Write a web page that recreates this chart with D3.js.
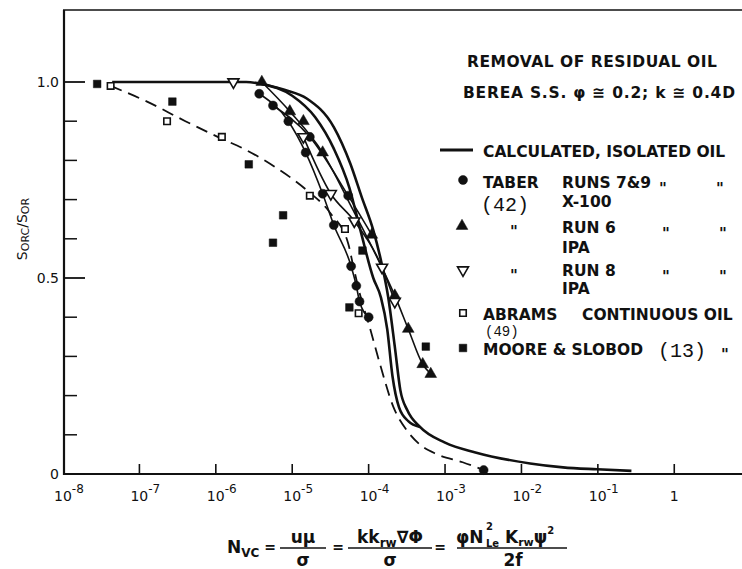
<!DOCTYPE html>
<html>
<head>
<meta charset="utf-8">
<script src="https://cdn.jsdelivr.net/npm/d3@7"></script>
<style>
  html, body { margin: 0; padding: 0; background: #fff; }
  svg { display: block; font-family: "DejaVu Sans", sans-serif; }
  text { fill: #111; }
</style>
</head>
<body>
<svg id="chart" width="742" height="569"></svg>
<script>
// ---- data: [N_vc, S_orc/S_or] ----
const taberRuns79 = [
  [3.7e-6, 0.97], [5.6e-6, 0.94], [8.9e-6, 0.90], [1.5e-5, 0.82], [1.7e-5, 0.86],
  [2.5e-5, 0.715], [3.5e-5, 0.635], [5.4e-5, 0.71], [5.9e-5, 0.53], [6.9e-5, 0.48],
  [7.6e-5, 0.44], [1.0e-4, 0.40], [3.2e-3, 0.01]
];
const taberRun6 = [
  [4.0e-6, 1.0], [9.3e-6, 0.925], [1.4e-5, 0.90], [2.5e-5, 0.82], [1.1e-4, 0.61],
  [2.2e-4, 0.455], [3.3e-4, 0.37], [5.1e-4, 0.28], [6.5e-4, 0.255]
];
const taberRun8 = [
  [1.7e-6, 1.0], [1.4e-5, 0.86], [3.2e-5, 0.715], [6.5e-5, 0.645], [1.5e-4, 0.527], [2.2e-4, 0.44]
];
const abrams = [
  [4.2e-8, 0.99], [2.3e-7, 0.90], [1.2e-6, 0.86], [1.7e-5, 0.71], [4.9e-5, 0.625], [7.4e-5, 0.41]
];
const mooreSlobod = [
  [2.8e-8, 0.995], [2.7e-7, 0.95], [2.7e-6, 0.79], [7.6e-6, 0.66], [5.6e-6, 0.59],
  [8.3e-5, 0.57], [5.6e-5, 0.425], [5.6e-4, 0.325]
];

// calculated isolated-oil curves
const calcOuter = [
  [4.4e-8, 1.0], [2.5e-6, 1.0], [4.0e-6, 0.995], [7.9e-6, 0.98], [1.55e-5, 0.958],
  [3.5e-5, 0.885], [5.75e-5, 0.792], [8.1e-5, 0.707], [1.15e-4, 0.622], [1.48e-4, 0.537],
  [1.8e-4, 0.452], [2.2e-4, 0.325], [2.6e-4, 0.214], [3.2e-4, 0.163], [4.7e-4, 0.12],
  [1.0e-3, 0.08], [2.5e-3, 0.055], [1.3e-2, 0.027], [3.5e-2, 0.017], [9.8e-2, 0.012], [0.275, 0.008]
];
const calcInner = [
  [4.0e-6, 0.995], [1.0e-5, 0.965], [2.0e-5, 0.91], [3.5e-5, 0.83], [5.6e-5, 0.73],
  [7.8e-5, 0.622], [1.15e-4, 0.50], [1.45e-4, 0.45], [1.75e-4, 0.37], [2.05e-4, 0.25],
  [2.5e-4, 0.17], [3.3e-4, 0.135], [4.7e-4, 0.12]
];
// hand-fitted lines through the runs
const fitTaber79a = [
  [3.7e-6, 0.97], [8.9e-6, 0.90], [1.5e-5, 0.82], [2.5e-5, 0.715], [3.5e-5, 0.635],
  [5.9e-5, 0.53], [6.9e-5, 0.48], [7.6e-5, 0.44], [1.0e-4, 0.40]
];
const fitTaber79b = [[5.6e-6, 0.94], [1.7e-5, 0.86], [5.4e-5, 0.71], [1.1e-4, 0.61]];
const fitRun6 = [
  [4.0e-6, 1.0], [9.3e-6, 0.925], [2.5e-5, 0.82], [6.0e-5, 0.68], [1.1e-4, 0.58],
  [2.2e-4, 0.455], [3.3e-4, 0.37], [5.1e-4, 0.28], [6.5e-4, 0.255]
];
const fitRun8 = [
  [1.4e-5, 0.86], [3.2e-5, 0.715], [6.5e-5, 0.645], [1.5e-4, 0.527], [2.2e-4, 0.44]
];
const continuousOil = [
  [4.2e-8, 0.99], [1.26e-7, 0.95], [4.0e-7, 0.90], [1.2e-6, 0.855], [2.3e-6, 0.83],
  [6.3e-6, 0.78], [1.55e-5, 0.724], [3.2e-5, 0.664], [5.4e-5, 0.588], [6.3e-5, 0.53],
  [7.9e-5, 0.45], [1.0e-4, 0.384], [1.4e-4, 0.282], [2.1e-4, 0.172], [3.2e-4, 0.11],
  [4.7e-4, 0.075], [7.9e-4, 0.05], [1.7e-3, 0.03], [3.2e-3, 0.01]
];

const xTickExponents = [-8, -7, -6, -5, -4, -3, -2, -1, 0];
const yMajorTicks = [0, 0.5, 1.0];
const yTickLabels = ["0", "0.5", "1.0"];
const yMinorTicks = [0.1, 0.2, 0.3, 0.4, 0.6, 0.7, 0.8, 0.9];

// ---- layout ----
const svg = d3.select("#chart");
const x = d3.scaleLog().domain([1e-8, 7.7]).range([63, 742]);
const y = d3.scaleLinear().domain([0, 1]).range([474, 82]);
const yTop = 10;

// frame
svg.append("line").attr("x1", 63).attr("x2", 742).attr("y1", yTop).attr("y2", yTop)
  .attr("stroke", "#111").attr("stroke-width", 1.4);
svg.append("line").attr("x1", 64).attr("x2", 64).attr("y1", yTop).attr("y2", y(0) + 1)
  .attr("stroke", "#111").attr("stroke-width", 2.2);
svg.append("line").attr("x1", 63).attr("x2", 742).attr("y1", y(0)).attr("y2", y(0))
  .attr("stroke", "#111").attr("stroke-width", 2.2);

// x ticks & labels
xTickExponents.forEach(e => {
  const v = Math.pow(10, e);
  if (e > -8) {
    svg.append("line").attr("x1", x(v)).attr("x2", x(v)).attr("y1", y(0)).attr("y2", y(0) - 10)
      .attr("stroke", "#111").attr("stroke-width", 1.6);
  }
  const t = svg.append("text").attr("y", 501).attr("font-size", 14);
  if (e === 0) {
    t.attr("x", x(v)).attr("text-anchor", "middle").text("1");
  } else {
    t.attr("x", x(v) - 9);
    t.append("tspan").text("10");
    t.append("tspan").attr("dy", -8).attr("font-size", 12).text("-" + Math.abs(e));
  }
});

// y ticks & labels
yMinorTicks.forEach(v => {
  svg.append("line").attr("x1", 64).attr("x2", 77).attr("y1", y(v)).attr("y2", y(v))
    .attr("stroke", "#111").attr("stroke-width", 1.5);
});
yMajorTicks.forEach((v, i) => {
  svg.append("line").attr("x1", 64).attr("x2", 85).attr("y1", y(v)).attr("y2", y(v))
    .attr("stroke", "#111").attr("stroke-width", 1.8);
  svg.append("text").attr("x", 59).attr("y", y(v) + 5).attr("text-anchor", "end")
    .attr("font-size", 14).text(yTickLabels[i]);
});

// y axis title
const yt = svg.append("text").attr("transform", "translate(27,229) rotate(-90)")
  .attr("text-anchor", "middle").attr("font-size", 14);
yt.append("tspan").text("S");
yt.append("tspan").attr("font-size", 11).attr("dy", 2).text("ORC");
yt.append("tspan").attr("dy", -2).text("/S");
yt.append("tspan").attr("font-size", 11).attr("dy", 2).text("OR");

// ---- curves ----
const line = d3.line().x(d => x(d[0])).y(d => y(d[1])).curve(d3.curveMonotoneX);
const plot = svg.append("g");
plot.append("path").datum(continuousOil).attr("d", line).attr("fill", "none")
  .attr("stroke", "#111").attr("stroke-width", 1.8).attr("stroke-dasharray", "12,7");
[calcOuter, calcInner].forEach(c => {
  plot.append("path").datum(c).attr("d", line).attr("fill", "none")
    .attr("stroke", "#111").attr("stroke-width", 2.6);
});
[fitTaber79a, fitTaber79b, fitRun6, fitRun8].forEach(c => {
  plot.append("path").datum(c).attr("d", line).attr("fill", "none")
    .attr("stroke", "#111").attr("stroke-width", 1.6);
});

// ---- markers ----
const sym = {
  circle: d3.symbol().type(d3.symbolCircle).size(64),
  triUp: d3.symbol().type(d3.symbolTriangle).size(60),
  square: d3.symbol().type(d3.symbolSquare).size(58),
  openSquare: d3.symbol().type(d3.symbolSquare).size(42),
  triDown: d3.symbol().type(d3.symbolTriangle).size(52)
};
const isOpen = k => k === "openSquare" || k === "triDown";
function drawMarkers(data, kind) {
  const g = plot.append("g");
  g.selectAll("path").data(data).join("path")
    .attr("d", sym[kind])
    .attr("transform", d => `translate(${x(d[0])},${y(d[1])})` + (kind === "triDown" ? " rotate(180)" : ""))
    .attr("fill", isOpen(kind) ? "#fff" : "#111")
    .attr("stroke", "#111").attr("stroke-width", isOpen(kind) ? 1.6 : 0.5);
}
drawMarkers(taberRuns79, "circle");
drawMarkers(taberRun6, "triUp");
drawMarkers(taberRun8, "triDown");
drawMarkers(abrams, "openSquare");
drawMarkers(mooreSlobod, "square");

// ---- legend / annotation ----
const lg = svg.append("g").attr("font-weight", "bold").attr("font-size", 15.5);
lg.append("text").attr("x", 467).attr("y", 67).attr("textLength", 250).text("REMOVAL OF RESIDUAL OIL");
lg.append("text").attr("x", 463).attr("y", 98).attr("textLength", 272).text("BEREA S.S. φ ≅ 0.2; k ≅ 0.4D");

lg.append("line").attr("x1", 440).attr("x2", 473).attr("y1", 150).attr("y2", 150)
  .attr("stroke", "#111").attr("stroke-width", 3);
lg.append("text").attr("x", 483).attr("y", 157).text("CALCULATED, ISOLATED OIL");

function legendMarker(kind, cx, cy) {
  lg.append("path").attr("d", sym[kind])
    .attr("transform", `translate(${cx},${cy})` + (kind === "triDown" ? " rotate(180)" : ""))
    .attr("fill", isOpen(kind) ? "#fff" : "#111")
    .attr("stroke", "#111").attr("stroke-width", isOpen(kind) ? 1.6 : 0.5);
}
function ditto(px, py) {
  lg.append("text").attr("x", px).attr("y", py).attr("font-size", 15).text("\"");
}
function refNum(px, py, s, size) {
  lg.append("text").attr("x", px).attr("y", py)
    .style("font-family", "'Liberation Mono', 'Courier New', monospace")
    .style("font-weight", "normal").attr("font-size", size).text(s);
}

legendMarker("circle", 463, 180);
lg.append("text").attr("x", 483).attr("y", 188).text("TABER");
refNum(481, 211, "(42)", 20);
lg.append("text").attr("x", 562).attr("y", 188).text("RUNS 7&9");
ditto(659, 194); ditto(716, 194);
lg.append("text").attr("x", 562).attr("y", 207).text("X-100");

legendMarker("triUp", 462, 226);
ditto(510, 237);
lg.append("text").attr("x", 562).attr("y", 233).text("RUN 6");
ditto(662, 239); ditto(719, 239);
lg.append("text").attr("x", 562).attr("y", 253).text("IPA");

legendMarker("triDown", 463, 270);
ditto(510, 281);
lg.append("text").attr("x", 562).attr("y", 276).text("RUN 8");
ditto(662, 282); ditto(719, 282);
lg.append("text").attr("x", 562).attr("y", 294).text("IPA");

legendMarker("openSquare", 463, 313);
lg.append("text").attr("x", 483).attr("y", 320).text("ABRAMS");
lg.append("text").attr("x", 582).attr("y", 320).text("CONTINUOUS OIL");
refNum(485, 336, "(49)", 14);

legendMarker("square", 463, 348);
lg.append("text").attr("x", 483).attr("y", 355).text("MOORE & SLOBOD");
refNum(658, 357, "(13)", 20);
ditto(721, 360);

// ---- x axis formula ----
const fx = svg.append("g").attr("font-weight", "bold").attr("font-size", 17);
function frac(cx, x1, x2, num, den) {
  const n = fx.append("text").attr("x", cx).attr("y", 543).attr("text-anchor", "middle");
  num(n);
  fx.append("line").attr("x1", x1).attr("x2", x2).attr("y1", 548).attr("y2", 548)
    .attr("stroke", "#111").attr("stroke-width", 1.5);
  fx.append("text").attr("x", cx).attr("y", 566).attr("text-anchor", "middle").text(den);
}
const nv = fx.append("text").attr("x", 227).attr("y", 553);
nv.append("tspan").text("N");
nv.append("tspan").attr("font-size", 12).attr("dy", 4).text("VC");
fx.append("text").attr("x", 270).attr("y", 552).attr("text-anchor", "middle").attr("font-size", 14).text("=");
frac(303, 280, 326, t => { t.text("uμ"); }, "σ");
fx.append("text").attr("x", 338).attr("y", 552).attr("text-anchor", "middle").attr("font-size", 14).text("=");
frac(390, 348, 432, t => {
  t.append("tspan").text("kk");
  t.append("tspan").attr("font-size", 12).attr("dy", 4).text("rw");
  t.append("tspan").attr("dy", -4).text("∇Φ");
}, "σ");
fx.append("text").attr("x", 440).attr("y", 552).attr("text-anchor", "middle").attr("font-size", 14).text("=");
// third fraction: φN²_Le K_rw ψ² / 2f
fx.append("text").attr("x", 456).attr("y", 543).text("φN");
fx.append("text").attr("x", 486).attr("y", 530).attr("font-size", 10).text("2");
fx.append("text").attr("x", 486).attr("y", 547).attr("font-size", 10).text("Le");
const kr = fx.append("text").attr("x", 505).attr("y", 543);
kr.append("tspan").text("K");
kr.append("tspan").attr("font-size", 11).attr("dy", 3).text("rw");
kr.append("tspan").attr("dy", -3).text("ψ");
kr.append("tspan").attr("font-size", 10).attr("dy", -9).text("2");
fx.append("line").attr("x1", 457).attr("x2", 567).attr("y1", 548).attr("y2", 548)
  .attr("stroke", "#111").attr("stroke-width", 1.5);
fx.append("text").attr("x", 513).attr("y", 566).attr("text-anchor", "middle").text("2f");
</script>
</body>
</html>
